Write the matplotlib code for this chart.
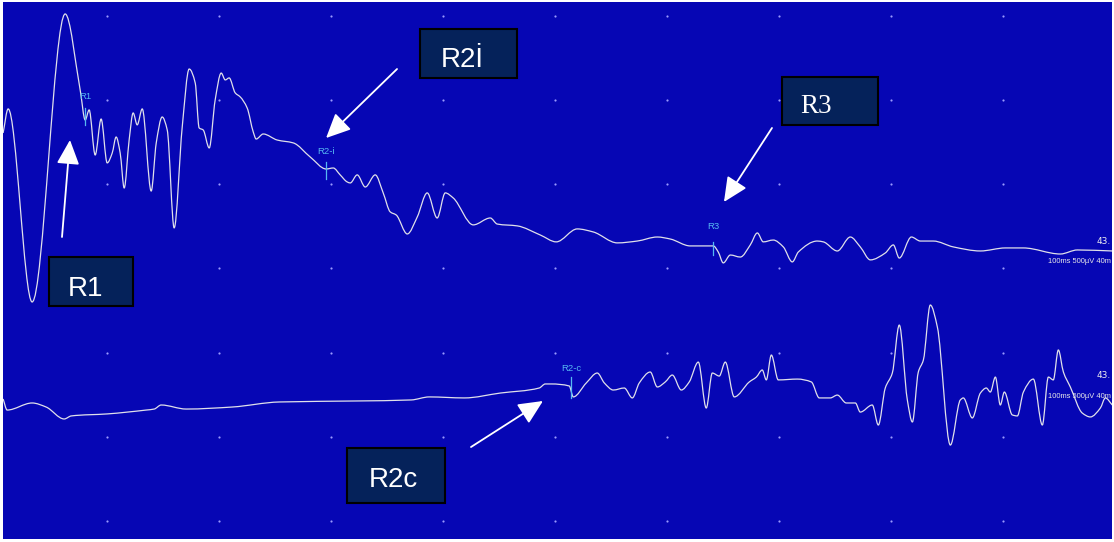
import matplotlib
matplotlib.use("Agg")
import matplotlib.pyplot as plt
from matplotlib.path import Path
from matplotlib.patches import PathPatch
import numpy as np

# ---- Blink reflex recording: two channels, time in ms, amplitude in µV ----
ipsi_t = [7.1, 11.6, 33.0, 62.5, 75.9, 80.4, 83.9, 89.3, 94.6, 100.0, 104.5, 108.0,
          111.6, 115.2, 119.6, 123.2, 126.8, 131.3, 139.3, 143.8, 149.1, 153.6, 159.8,
          167.0, 173.2, 178.6, 182.1, 185.7, 191.1, 196.4, 201.8, 205.4, 208.9, 214.3,
          218.8, 225.0, 230.4, 233.0, 239.3, 251.8, 266.1, 281.3, 295.5, 301.8, 308.0,
          314.3, 317.0, 323.2, 330.4, 339.3, 346.4, 352.7, 358.0, 367.9, 376.8, 385.7,
          394.6, 401.8, 408.9, 426.8, 442.0, 448.2, 466.1, 486.6, 500.9, 519.6, 533.9,
          555.4, 573.2, 591.1, 602.7, 620.5, 641.1, 645.5, 650.0, 656.3, 665.2, 674.1,
          680.4, 685.7, 694.6, 703.6, 711.6, 717.0, 733.9, 739.3, 751.8, 763.4, 772.3,
          781.3, 794.6, 801.8, 807.1, 817.9, 825.9, 837.5, 855.4, 879.5, 901.8, 917.9,
          950.9, 966.1, 997.3]
ipsi_uv = [695, 838, -309, 1402, 950, 772, 832, 564, 778, 517, 576, 671,
           576, 368, 653, 814, 743, 838, 350, 636, 790, 713, 131,
           731, 1075, 992, 725, 713, 606, 891, 1051, 1010, 1022, 933,
           909, 843, 701, 659, 689, 653, 636, 552, 481, 487, 446,
           404, 398, 446, 374, 446, 339, 226, 208, 95, 196, 339,
           190, 339, 309, 149, 190, 154, 143, 89, 48, 125, 107,
           42, 53, 77, 65, 24, 24, -12, -77, -30, -42, 30,
           101, 48, 59, 18, -71, -12, 53, 48, -6, 77, 18,
           -59, -18, 30, -48, 77, 53, 53, 18, -6, 12, 12,
           -24, 0, -6]

contra_t = [7.1, 10.7, 33.0, 45.5, 61.6, 67.9, 100.0, 134.8, 142.0, 148.2, 170.5, 211.6,
            253.6, 323.2, 371.4, 387.5, 418.8, 450.9, 485.7, 491.1, 496.4, 512.5, 516.1,
            527.7, 537.5, 543.8, 551.8, 561.6, 568.8, 575.0, 584.8, 591.1, 598.2, 604.5,
            612.5, 619.6, 627.7, 634.8, 640.2, 646.4, 651.8, 659.8, 673.2, 679.5, 684.8,
            688.4, 692.9, 699.1, 716.1, 728.6, 735.7, 745.5, 751.8, 759.8, 767.9, 772.3,
            783.0, 788.4, 794.6, 800.9, 807.1, 814.3, 818.8, 824.1, 828.6, 834.8, 841.1,
            852.7, 861.6, 864.3, 872.3, 879.5, 884.8, 888.4, 892.9, 897.3, 900.9, 908.0,
            912.5, 917.9, 926.8, 934.8, 940.2, 944.6, 949.1, 953.6, 959.8, 970.5, 977.7,
            986.6, 991.1, 997.3]
contra_uv = [36, -30, 12, -12, -83, -65, -53, -30, -24, 0, -24, -12,
             18, 24, 30, 48, 42, 71, 101, 125, 125, 113, 48,
             131, 190, 131, 89, 101, 42, 131, 196, 107, 137, 178,
             89, 137, 255, -18, 190, 172, 255, 48, 137, 166, 208,
             149, 297, 149, 154, 137, 42, 42, 59, 12, 12, -42,
             0, -119, 101, 190, 475, 30, -101, 196, 267, 594, 463,
             -238, 30, 42, -77, 71, 101, 77, 166, 0, 77, -59,
             -65, 77, 154, -119, 166, 149, 327, 196, 107, -48, -71,
             -18, 42, 0]

# Channel baselines on the shared display (µV)
ipsi_offset = 1610
contra_offset = 689

# Latency cursors: name, time (ms), channel
cursor_names = ["R1", "R2-i", "R3", "R2-c"]
cursor_t = [80.4, 295.5, 641.1, 514.3]
cursor_lo = [743, 422, -30, 42]
cursor_hi = [843, 523, 48, 166]
cursor_label_uv = [909, 582, 137, 214]
cursor_channel = ["ipsi", "ipsi", "ipsi", "contra"]

# Callout boxes: text, box extents (axes fraction), text anchor, arrow tail & tip
callouts = [
    dict(text="R1", box=(0.0415, 0.4339, 0.1172, 0.5251), txt=(0.0744, 0.4525),
         tail=(0.0532, 0.5624), tip=(0.0604, 0.7430), family="Liberation Sans", size=20),
    dict(text="R2İ", box=(0.3760, 0.8585, 0.4635, 0.9497), txt=(0.4141, 0.8790),
         tail=(0.3553, 0.8752), tip=(0.2913, 0.7467), family="Liberation Sans", size=20),
    dict(text="R3", box=(0.7024, 0.7710, 0.7890, 0.8603), txt=(0.7335, 0.7933),
         tail=(0.6934, 0.7654), tip=(0.6501, 0.6276), family="Liberation Serif", size=19.5),
    dict(text="R2c", box=(0.3102, 0.0670, 0.3986, 0.1695), txt=(0.3521, 0.0968),
         tail=(0.4220, 0.1713), tip=(0.4869, 0.2570), family="Liberation Sans", size=20),
]

BG = "#0606b4"
TRACE = "#e0e0ea"
CURSOR = "#56b8f2"
BOX = "#05225a"


def smooth_trace_path(t, v):
    """Monotone cubic (Fritsch-Carlson) curve through every sample as Bezier segments,
    so peaks and troughs sit exactly on the samples without overshoot."""
    x = np.asarray(t, float)
    y = np.asarray(v, float)
    h = np.diff(x)
    d = np.diff(y) / h
    m = np.zeros_like(y)
    m[0], m[-1] = d[0], d[-1]
    for i in range(1, len(y) - 1):
        if d[i - 1] * d[i] > 0:
            w1 = 2 * h[i] + h[i - 1]
            w2 = h[i] + 2 * h[i - 1]
            m[i] = (w1 + w2) / (w1 / d[i - 1] + w2 / d[i])
    verts = [(x[0], y[0])]
    codes = [Path.MOVETO]
    for i in range(len(y) - 1):
        verts += [(x[i] + h[i] / 3, y[i] + m[i] * h[i] / 3),
                  (x[i + 1] - h[i] / 3, y[i + 1] - m[i + 1] * h[i] / 3),
                  (x[i + 1], y[i + 1])]
        codes += [Path.CURVE4] * 3
    return Path(np.array(verts), codes)


W, H = 1114, 542
fig = plt.figure(figsize=(W / 100, H / 100), dpi=100)
fig.patch.set_facecolor("white")
ax = fig.add_axes([3 / W, 3 / H, 1109 / W, 537 / H])
ax.set_facecolor(BG)
ax.set_xlim(7, 997)
ax.set_ylim(-107, 3083)
for s in ax.spines.values():
    s.set_visible(False)
ax.set_xticks([])
ax.set_yticks([])

# Division dots: 100 ms x 500 µV
gx, gy = np.meshgrid(np.arange(100, 1000, 100), np.arange(0, 3500, 500))
ax.scatter(gx.ravel(), gy.ravel(), s=2.5, color="#9a9aff", linewidths=0, zorder=1)

# Traces
for t, uv, off in [(ipsi_t, ipsi_uv, ipsi_offset), (contra_t, contra_uv, contra_offset)]:
    path = smooth_trace_path(t, np.array(uv) + off)
    ax.add_patch(PathPatch(path, facecolor="none", edgecolor=TRACE, lw=0.9,
                           joinstyle="round", zorder=3))

# Latency cursors
for name, t, lo, hi, lab, ch in zip(cursor_names, cursor_t, cursor_lo, cursor_hi,
                                    cursor_label_uv, cursor_channel):
    off = ipsi_offset if ch == "ipsi" else contra_offset
    ax.plot([t, t], [lo + off, hi + off], color=CURSOR, lw=0.9, zorder=4)
    ax.text(t, lab + off, name, color=CURSOR, fontsize=6.8, ha="center", va="center",
            family="Liberation Sans", zorder=4)

# Channel info at the right edge
for off, num_uv, info_uv in [(ipsi_offset, 53, -71), (contra_offset, 178, 53)]:
    ax.text(996, num_uv + off, "43.", color="#f0f0f0", fontsize=6.5, ha="right",
            va="center", zorder=5)
    ax.text(996, info_uv + off, "100ms 500µV 40m", color="#e8e8e8", fontsize=5.4,
            ha="right", va="center", zorder=5, family="Liberation Sans")

# Callout boxes with arrows
for c in callouts:
    x0, y0, x1, y1 = c["box"]
    ax.add_patch(plt.Rectangle((x0, y0), x1 - x0, y1 - y0, transform=ax.transAxes,
                               facecolor=BOX, edgecolor="black", lw=1.5, zorder=6))
    ax.text(c["txt"][0], c["txt"][1], c["text"], transform=ax.transAxes, color="white",
            fontsize=c["size"], family=c["family"], ha="center", va="baseline", zorder=7)
    ax.annotate("", xy=c["tip"], xytext=c["tail"], xycoords="axes fraction",
                textcoords="axes fraction",
                arrowprops=dict(arrowstyle="-|>,head_length=0.75,head_width=0.35",
                                color="white", lw=1.3, mutation_scale=20,
                                shrinkA=0, shrinkB=0),
                zorder=7)

fig.savefig("out.png", dpi=100, facecolor="white")
